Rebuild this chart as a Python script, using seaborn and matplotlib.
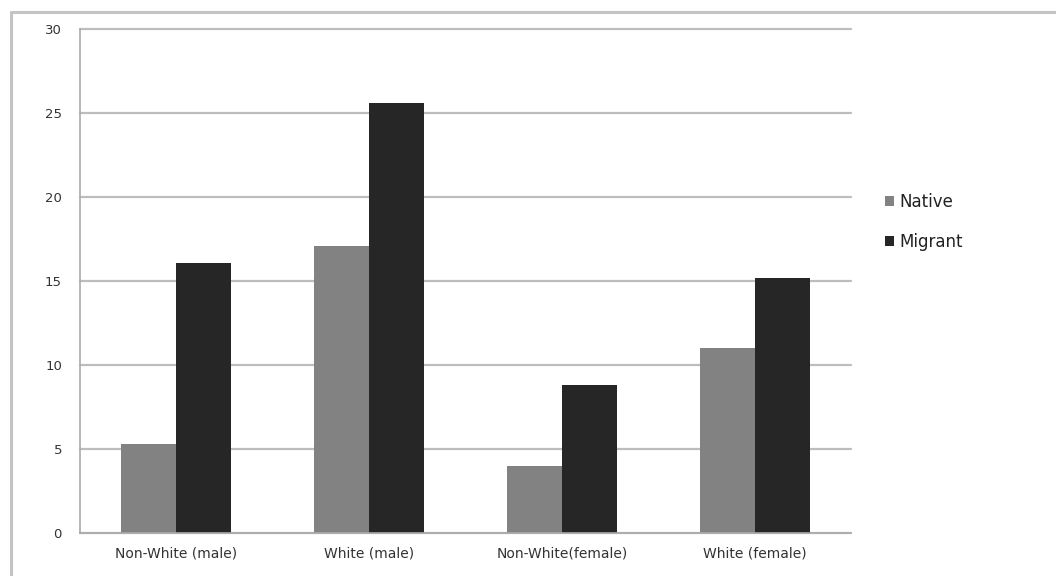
import matplotlib
matplotlib.use("Agg")
import matplotlib.pyplot as plt
from matplotlib.lines import Line2D
import seaborn as sns
import pandas as pd

categories = ["Non-White (male)", "White (male)", "Non-White(female)", "White (female)"]
native = [5.3, 17.1, 4.0, 11.0]
migrant = [16.1, 25.6, 8.8, 15.2]
series = ["Native", "Migrant"]

df = pd.DataFrame({
    "category": categories * 2,
    "value": native + migrant,
    "series": [series[0]] * len(categories) + [series[1]] * len(categories),
})

sns.set_theme(style="white")
plt.rcParams["font.family"] = ["DejaVu Sans"]

fig = plt.figure(figsize=(10.56, 5.76), dpi=100)
ax = fig.add_axes([80/1056, 43/576, 771/1056, 504/576])

sns.barplot(data=df, x="category", y="value", hue="series", order=categories,
            hue_order=series, palette=["#828282", "#262626"], width=0.57,
            saturation=1, ax=ax, linewidth=0)

ax.set_ylim(0, 30)
ax.set_xlim(-0.5, 3.5)
ax.set_yticks(range(0, 31, 5))
ax.yaxis.grid(True, color="#bdbdbd", linewidth=1.6)
for gl in ax.get_ygridlines():
    gl.set_clip_on(False)
ax.set_axisbelow(True)
ax.set_xlabel("")
ax.set_ylabel("")
for s in ["top", "right"]:
    ax.spines[s].set_visible(False)
ax.spines["left"].set_color("#aaaaaa")
ax.spines["bottom"].set_color("#aaaaaa")
ax.spines["left"].set_linewidth(1.2)
ax.spines["bottom"].set_linewidth(1.2)

ax.tick_params(axis="y", which="major", length=5, color="#aaaaaa", width=1.2,
               labelsize=9.5, labelcolor="#333333", pad=8)
ax.tick_params(axis="x", which="major", length=0, labelsize=10,
               labelcolor="#333333", pad=10)
ax.set_xticks([-0.5, 0.5, 1.5, 2.5, 3.5], minor=True)
ax.tick_params(axis="x", which="minor", length=5, color="#aaaaaa", width=1.2)

leg = ax.legend(loc="center left", bbox_to_anchor=(870/1056, 1 - 222/576),
                bbox_transform=fig.transFigure, frameon=False, fontsize=12,
                handlelength=0.55, handleheight=0.55, handletextpad=0.3,
                labelspacing=1.35)
for t in leg.get_texts():
    t.set_color("#222222")

fig.add_artist(Line2D([11/1056, 1], [1 - 12/576, 1 - 12/576], color="#c4c4c4",
                      linewidth=2.2, transform=fig.transFigure))
fig.add_artist(Line2D([11/1056, 11/1056], [0, 1 - 12/576], color="#c4c4c4",
                      linewidth=2.2, transform=fig.transFigure))

fig.savefig("out.png", dpi=100)
